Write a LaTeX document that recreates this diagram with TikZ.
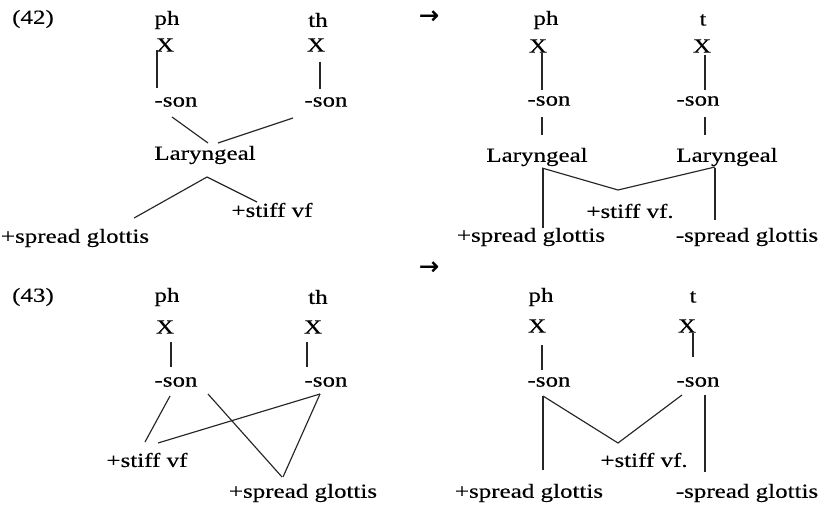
\documentclass[tikz,border=0pt]{standalone}
\usepackage{fontspec}
\setmainfont{Liberation Serif}[FakeStretch=1.25,FakeBold=0.35]
\newfontfamily\arrowfont{DejaVu Sans}[FakeBold=1.2]
\begin{document}
\begin{tikzpicture}[x=1pt,y=-1pt,
  lbl/.style={inner sep=0pt,outer sep=0pt,font=\fontsize{20}{24}\selectfont},
  arr/.style={inner sep=0pt,font=\arrowfont\fontsize{24}{26}\selectfont},
  link/.style={line width=1.15pt,draw=black!85}]
\useasboundingbox[fill=white] (0,0) rectangle (827,508);
% ---------- (42) left
\node[lbl] (lab42) at (33,19) {(42)};
\node[lbl] (ph1) at (167,20) {ph};
\node[lbl] (X1) at (165,45) {X};
\node[lbl] (th1) at (318,20) {th};
\node[lbl] (X2) at (316,45) {X};
\node[lbl] (son1) at (176,102) {-son};
\node[lbl] (son2) at (326,102) {-son};
\node[lbl] (lar1) at (205,155) {Laryngeal};
\node[lbl] (stiff1) at (272,210) {+stiff vf};
\node[lbl,anchor=west] (spread1) at (1,238) {+spread glottis};
\draw[link] ([shift={(-8,5)}]X1.center) -- ([shift={(-19,-14)}]son1.center);
\draw[link] ([shift={(4,17)}]X2.center) -- ([shift={(-6,-13)}]son2.center);
\draw[link] ([shift={(-4,15)}]son1.center) -- ([shift={(3,-12)}]lar1.center);
\draw[link] ([shift={(-33,16)}]son2.center) -- ([shift={(13,-12)}]lar1.center);
\draw[link] ([shift={(2,22)}]lar1.center) -- ([shift={(-15,-20)}]spread1.east);
\draw[link] ([shift={(2,22)}]lar1.center) -- ([shift={(-15,-8)}]stiff1.center);
% ---------- (42) right
\node[arr] (arrow1) at (429,17) {→};
\node[lbl] (ph2) at (546,20) {ph};
\node[lbl] (X3) at (538,46) {X};
\node[lbl] (t2) at (703,20) {t};
\node[lbl] (X4) at (702,46) {X};
\node[lbl] (son3) at (549,101) {-son};
\node[lbl] (son4) at (698,101) {-son};
\node[lbl] (lar2) at (537,157) {Laryngeal};
\node[lbl] (lar3) at (727,157) {Laryngeal};
\node[lbl] (stiff2) at (630,211) {+stiff vf.};
\node[lbl] (spread2) at (531,237) {+spread glottis};
\node[lbl] (spread3) at (747,237) {-spread glottis};
\draw[link] ([shift={(4,7)}]X3.center) -- ([shift={(-7,-11)}]son3.center);
\draw[link] ([shift={(-7,16)}]son3.center) -- ([shift={(5,-22)}]lar2.center);
\draw[link] ([shift={(3,9)}]X4.center) -- ([shift={(7,-11)}]son4.center);
\draw[link] ([shift={(7,16)}]son4.center) -- ([shift={(-22,-22)}]lar3.center);
\draw[link] ([shift={(6,11)}]lar2.center) -- ([shift={(12,-9)}]spread2.center);
\draw[link] ([shift={(5,11)}]lar2.center) -- ([shift={(-12,-21)}]stiff2.center) -- ([shift={(-12,10)}]lar3.center);
\draw[link] ([shift={(-12,11)}]lar3.center) -- ([shift={(-32,-17)}]spread3.center);
% ---------- (43) left
\node[lbl] (lab43) at (33,297) {(43)};
\node[lbl] (ph3) at (167,297) {ph};
\node[lbl] (X5) at (165,327) {X};
\node[lbl] (th3) at (318,297) {th};
\node[lbl] (X6) at (313,327) {X};
\node[lbl] (son5) at (176,382) {-son};
\node[lbl] (son6) at (326,382) {-son};
\node[lbl] (stiff5) at (147,460) {+stiff vf};
\node[lbl] (spread5) at (303,493) {+spread glottis};
\draw[link] ([shift={(6,15)}]X5.center) -- ([shift={(-5,-15)}]son5.center);
\draw[link] ([shift={(-6,15)}]X6.center) -- ([shift={(-19,-15)}]son6.center);
\draw[link] ([shift={(-6,14)}]son5.center) -- ([shift={(-2,-18)}]stiff5.center);
\draw[link] ([shift={(32,12)}]son5.center) -- ([shift={(-21,-16)}]spread5.center);
\draw[link] ([shift={(-6,12)}]son6.center) -- ([shift={(11,-17)}]stiff5.center);
\draw[link] ([shift={(-6,12)}]son6.center) -- ([shift={(-20,-16)}]spread5.center);
% ---------- (43) right
\node[arr] (arrow2) at (429,268) {→};
\node[lbl] (ph4) at (541,297) {ph};
\node[lbl] (X7) at (537,326) {X};
\node[lbl] (t4) at (693,297) {t};
\node[lbl] (X8) at (687,326) {X};
\node[lbl] (son7) at (549,382) {-son};
\node[lbl] (son8) at (698,382) {-son};
\node[lbl] (stiff6) at (644,460) {+stiff vf.};
\node[lbl] (spread6) at (529,493) {+spread glottis};
\node[lbl] (spread7) at (747,493) {-spread glottis};
\draw[link] ([shift={(5,19)}]X7.center) -- ([shift={(-7,-12)}]son7.center);
\draw[link] ([shift={(6,7)}]X8.center) -- ([shift={(-5,-25)}]son8.center);
\draw[link] ([shift={(-6,14)}]son7.center) -- ([shift={(14,-23)}]spread6.center);
\draw[link] ([shift={(-6,14)}]son7.center) -- ([shift={(-26,-17)}]stiff6.center) -- ([shift={(-16,13)}]son8.center);
\draw[link] ([shift={(7,13)}]son8.center) -- ([shift={(-42,-21)}]spread7.center);
\end{tikzpicture}
\end{document}
